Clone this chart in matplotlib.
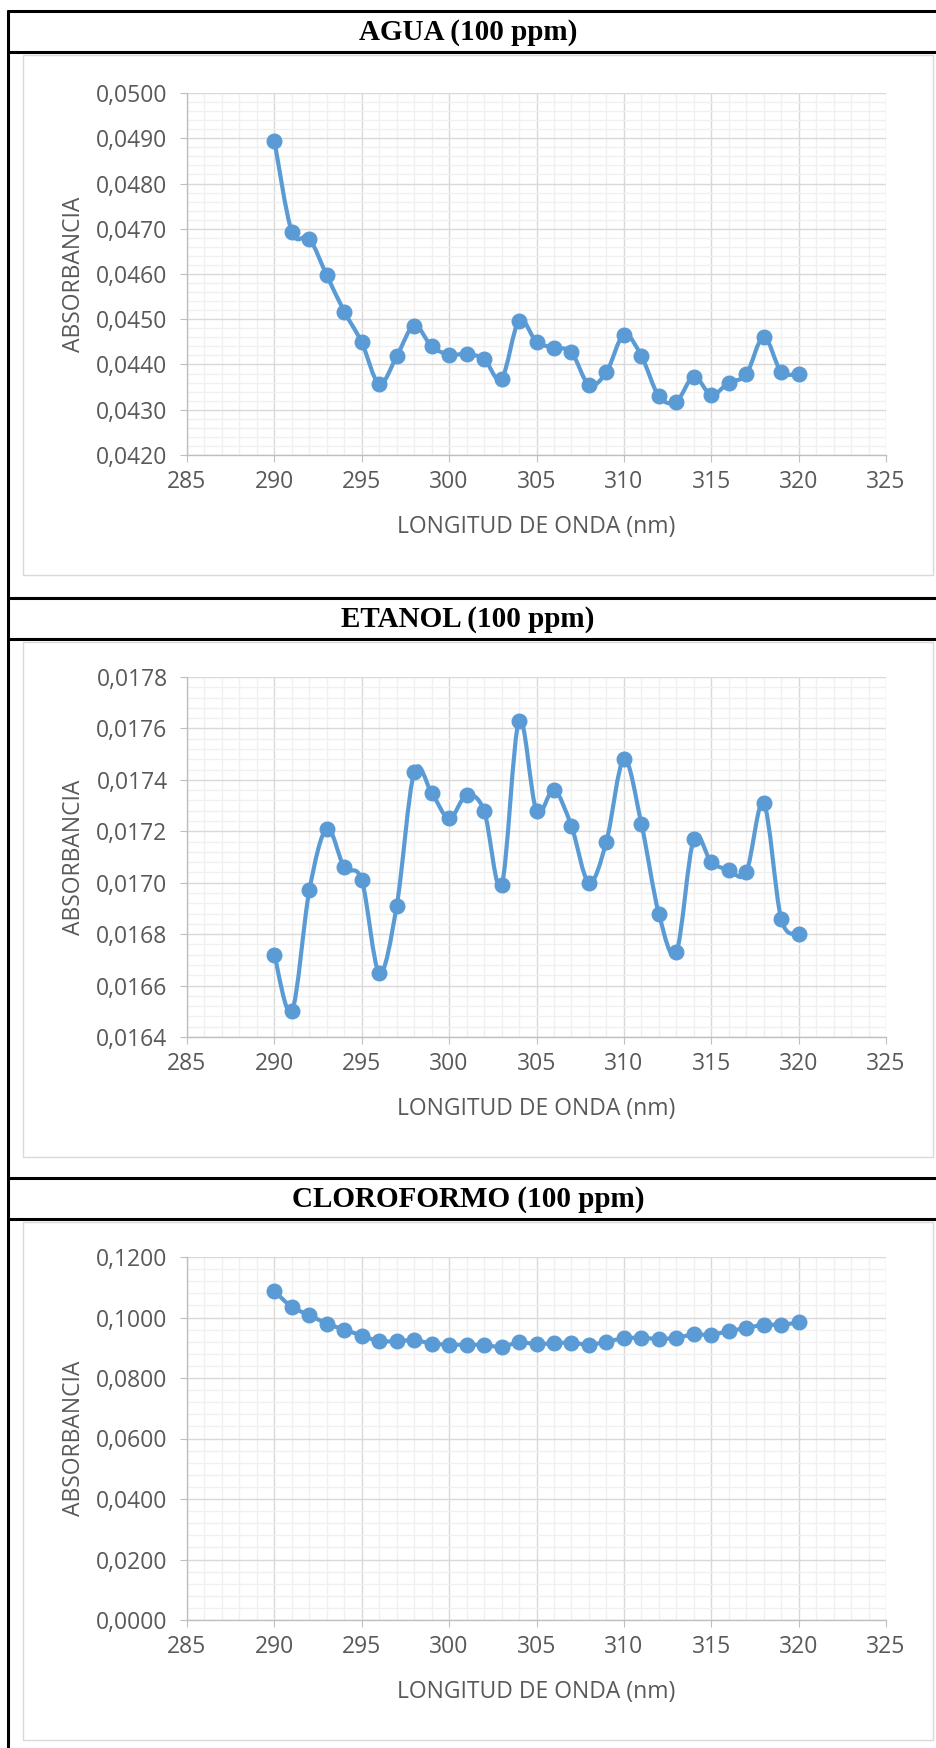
import matplotlib
matplotlib.use("Agg")
import matplotlib.pyplot as plt
from matplotlib.ticker import MultipleLocator, FuncFormatter
from matplotlib.path import Path
from matplotlib.patches import PathPatch, Rectangle
from matplotlib.lines import Line2D

# ---- data -------------------------------------------------------------
wavelength = list(range(290, 321))

agua = [0.04895, 0.04693, 0.04678, 0.04597, 0.04517, 0.04449, 0.04357, 0.04418,
        0.04486, 0.04440, 0.04422, 0.04423, 0.04412, 0.04368, 0.04497, 0.04450,
        0.04437, 0.04427, 0.04355, 0.04383, 0.04466, 0.04419, 0.04330, 0.04318,
        0.04373, 0.04333, 0.04360, 0.04378, 0.04461, 0.04384, 0.04380]

etanol = [0.01672, 0.01650, 0.01697, 0.01721, 0.01706, 0.01701, 0.01665, 0.01691,
          0.01743, 0.01735, 0.01725, 0.01734, 0.01728, 0.01699, 0.01763, 0.01728,
          0.01736, 0.01722, 0.01700, 0.01716, 0.01748, 0.01723, 0.01688, 0.01673,
          0.01717, 0.01708, 0.01705, 0.01704, 0.01731, 0.01686, 0.01680]

cloroformo = [0.1087, 0.1035, 0.1008, 0.0980, 0.0960, 0.0940, 0.0922, 0.0922,
              0.0925, 0.0914, 0.0910, 0.0910, 0.0909, 0.0903, 0.0918, 0.0912,
              0.0915, 0.0917, 0.0910, 0.0920, 0.0931, 0.0933, 0.0929, 0.0933,
              0.0944, 0.0943, 0.0955, 0.0965, 0.0976, 0.0976, 0.0984]

titles = ["AGUA (100 ppm)", "ETANOL (100 ppm)", "CLOROFORMO (100 ppm)"]
series = [agua, etanol, cloroformo]
y_limits = [(0.0420, 0.0500), (0.0164, 0.0178), (0.0, 0.12)]
y_major = [0.0010, 0.0002, 0.02]
y_minor = [0.0002, 0.00004, 0.004]
x_limits = (285, 325)
x_label = "LONGITUD DE ONDA (nm)"
y_label = "ABSORBANCIA"

# ---- layout (pixels) --------------------------------------------------
W, H = 936, 1748
row_top = [11, 598, 1178]
row_sep = [52, 639, 1219]
plot_top = [93, 677, 1257]
plot_bottom = [455, 1037, 1620]
frame_bottom = [575, 1157, 1740]
plot_left, plot_right = 187, 886

LINE = "#5B9BD5"
TEXT = "#595959"
MAJOR = "#D9D9D9"
MINOR = "#F0F0F0"
AXIS = "#BFBFBF"
SANS = ["Open Sans", "DejaVu Sans"]

fig = plt.figure(figsize=(W / 100, H / 100), dpi=100)


def fx(px):
    return px / W


def fy(py):
    return 1 - py / H


def smooth_path(xs, ys):
    """Bezier path through the points, smoothed like a spreadsheet line."""
    n = len(xs)
    verts = [(xs[0], ys[0])]
    codes = [Path.MOVETO]
    for i in range(n - 1):
        x0, y0 = (xs[i - 1], ys[i - 1]) if i > 0 else (xs[i], ys[i])
        x1, y1 = xs[i], ys[i]
        x2, y2 = xs[i + 1], ys[i + 1]
        x3, y3 = (xs[i + 2], ys[i + 2]) if i + 2 < n else (x2, y2)
        c1 = (x1 + (x2 - x0) / 6, y1 + (y2 - y0) / 6)
        c2 = (x2 - (x3 - x1) / 6, y2 - (y3 - y1) / 6)
        verts += [c1, c2, (x2, y2)]
        codes += [Path.CURVE4] * 3
    return Path(verts, codes)


comma_fmt = FuncFormatter(lambda v, _: f"{v:.4f}".replace(".", ","))

for k in range(3):
    # chart frame
    fig.add_artist(Rectangle((fx(23), fy(frame_bottom[k])), fx(933) - fx(23),
                             fy(row_sep[k] + 3) - fy(frame_bottom[k]),
                             transform=fig.transFigure, fill=False,
                             edgecolor=MAJOR, lw=1.0, zorder=0))
    # title row
    fig.text(0.5, fy((row_top[k] + row_sep[k]) / 2 + 1), titles[k],
             ha="center", va="center", fontsize=21, fontweight="bold",
             family=["Liberation Serif", "DejaVu Serif"], color="black")

    ax = fig.add_axes([fx(plot_left), fy(plot_bottom[k]),
                       fx(plot_right) - fx(plot_left),
                       fy(plot_top[k]) - fy(plot_bottom[k])])
    ax.set_xlim(*x_limits)
    ax.set_ylim(*y_limits[k])
    ax.xaxis.set_major_locator(MultipleLocator(5))
    ax.xaxis.set_minor_locator(MultipleLocator(1))
    ax.yaxis.set_major_locator(MultipleLocator(y_major[k]))
    ax.yaxis.set_minor_locator(MultipleLocator(y_minor[k]))
    ax.yaxis.set_major_formatter(comma_fmt)

    ax.grid(which="minor", color=MINOR, lw=1.0, zorder=0)
    ax.grid(which="major", color=MAJOR, lw=1.0, zorder=0.5)
    ax.set_axisbelow(True)
    for side in ("top", "right"):
        ax.spines[side].set_visible(False)
    for side in ("left", "bottom"):
        ax.spines[side].set_color(AXIS)
        ax.spines[side].set_linewidth(1.0)

    ax.tick_params(which="major", direction="out", length=5, width=0.8,
                   color=AXIS, labelcolor=TEXT, labelsize=16.5)
    ax.tick_params(axis="y", which="major", pad=9)
    ax.tick_params(axis="x", which="major", pad=6)
    ax.tick_params(which="minor", length=0)
    for lbl in ax.get_xticklabels() + ax.get_yticklabels():
        lbl.set_family(SANS)

    ax.set_ylabel(y_label, fontsize=16.5, color=TEXT, family=SANS,
                  ha="center", va="center")
    ax.yaxis.set_label_coords((74 - plot_left) / (plot_right - plot_left), 0.5)
    ax.set_xlabel(x_label, fontsize=16.5, color=TEXT, family=SANS,
                  ha="center", va="center")
    ax.xaxis.set_label_coords(0.5, -72 / (plot_bottom[k] - plot_top[k]))

    ys = series[k]
    ax.add_patch(PathPatch(smooth_path(wavelength, ys), fill=False,
                           edgecolor=LINE, lw=3.0, capstyle="round",
                           joinstyle="round", zorder=3))
    ax.plot(wavelength, ys, linestyle="none", marker="o", markersize=10.5,
            color=LINE, markeredgecolor=LINE, zorder=4, clip_on=False)

# table borders
BORDER = dict(color="black", lw=2.2, solid_capstyle="butt")
fig.add_artist(Line2D([fx(8), fx(8)], [fy(row_top[0] - 1), fy(H)],
                      transform=fig.transFigure, **BORDER))
for y in row_top + row_sep:
    fig.add_artist(Line2D([fx(7), fx(W)], [fy(y), fy(y)],
                          transform=fig.transFigure, **BORDER))

fig.savefig("out.png", dpi=100)
